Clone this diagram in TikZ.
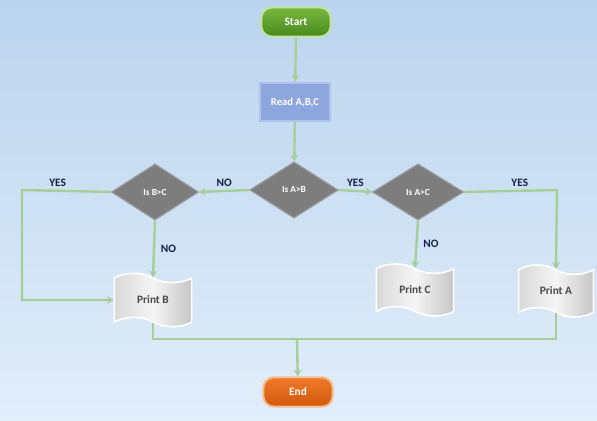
\documentclass[tikz,border=0pt]{standalone}
\usepackage{fontspec}
\setmainfont{Carlito}
\usetikzlibrary{shapes.geometric,shapes.symbols,shapes.misc,arrows.meta}
\definecolor{bgA}{RGB}{186,212,238}
\definecolor{bgB}{RGB}{226,238,250}
\definecolor{lineG}{RGB}{166,206,152}
\definecolor{startT}{RGB}{122,184,62}
\definecolor{startB}{RGB}{70,138,30}
\definecolor{startD}{RGB}{196,228,160}
\definecolor{readF}{RGB}{142,166,222}
\definecolor{readD}{RGB}{176,194,236}
\definecolor{decF}{RGB}{125,125,125}
\definecolor{decD}{RGB}{150,150,150}
\definecolor{endT}{RGB}{238,122,40}
\definecolor{endB}{RGB}{210,88,14}
\definecolor{endD}{RGB}{246,186,140}
\definecolor{lbl}{RGB}{22,32,70}
\definecolor{prT}{RGB}{72,72,72}
\tikzset{
  conn/.style={draw=lineG, line width=1.8pt},
  arr/.style={conn, -{Stealth[length=5pt,width=6pt]}},
  term/.style={rectangle, rounded corners=8pt, draw, line width=1.5pt, minimum width=52pt, minimum height=22pt, text=white, font=\bfseries\fontsize{8.5}{10}\selectfont},
  proc/.style={rectangle, draw=readD, line width=1.3pt, fill=readF, minimum width=52pt, minimum height=29pt, text=white, font=\bfseries\fontsize{8}{10}\selectfont},
  dec/.style={diamond, draw=decD, line width=1pt, fill=decF, inner sep=0pt, minimum width=66pt, minimum height=42pt, text=white, font=\bfseries\fontsize{7}{8}\selectfont},
  prn/.style={tape, draw=white, line width=1.2pt, left color=gray!30, right color=gray!45, middle color=gray!8, tape bend top=out and in, tape bend bottom=out and in, tape bend height=7pt, minimum width=58pt, minimum height=40pt, text=prT, font=\bfseries\fontsize{8.5}{10}\selectfont},
  lab/.style={text=lbl, font=\bfseries\fontsize{8.5}{10}\selectfont}
}
\begin{document}
\begin{tikzpicture}[x=0.75pt,y=-0.75pt]
\useasboundingbox (0,0) rectangle (597,421);
\shade[shading angle=135, top color=bgA, bottom color=bgB] (0,0) rectangle (597,421);
% nodes
\node[term, draw=startD, top color=startT, bottom color=startB] (start) at (296,22) {Start};
\node[proc] (read) at (295,102) {Read A,B,C};
\node[dec] (ab) at (294,190) {Is A>B};
\node[dec, minimum width=65pt] (bc) at (155,192) {Is B>C};
\node[dec, minimum width=68pt] (ac) at (418,192) {Is A>C};
\node[prn] (pb) at (153,300) {Print B};
\node[prn, minimum height=39pt] (pc) at (415,290) {Print C};
\node[prn, minimum width=56pt, minimum height=39pt] (pa) at (556,291) {Print A};
\node[term, draw=endD, top color=endT, bottom color=endB] (end) at (298,392) {End};
% coordinates
\coordinate (yl) at (22,190);
\coordinate (yr) at (557,190);
\coordinate (bus) at (297,339);
% connectors
\draw[arr] (start) -- (read);
\draw[arr] (read) -- (ab);
\draw[arr] (ab.west) -- (bc.east) node[lab, midway, above=-1pt] {NO};
\draw[arr] (ab.east) -- (ac.west) node[lab, midway, above=-1pt] {YES};
\draw[arr] (ac.east) -- (yr) node[lab, pos=0.6, above=-1pt] {YES} -- (pa.north);
\draw[arr] (ac.south) -- (pc.north) node[lab, midway, right=1pt] {NO};
\draw[arr] (bc.south) -- (pb.north) node[lab, midway, right=1pt] {NO};
\draw[arr] (bc.west) -- (yl) node[lab, pos=0.6, above=-1pt] {YES} |- (pb.west);
\draw[conn] (pb.south) |- (bus);
\draw[conn] (pa.south) |- (bus);
\draw[arr] (bus) -- (end);
\end{tikzpicture}
\end{document}
